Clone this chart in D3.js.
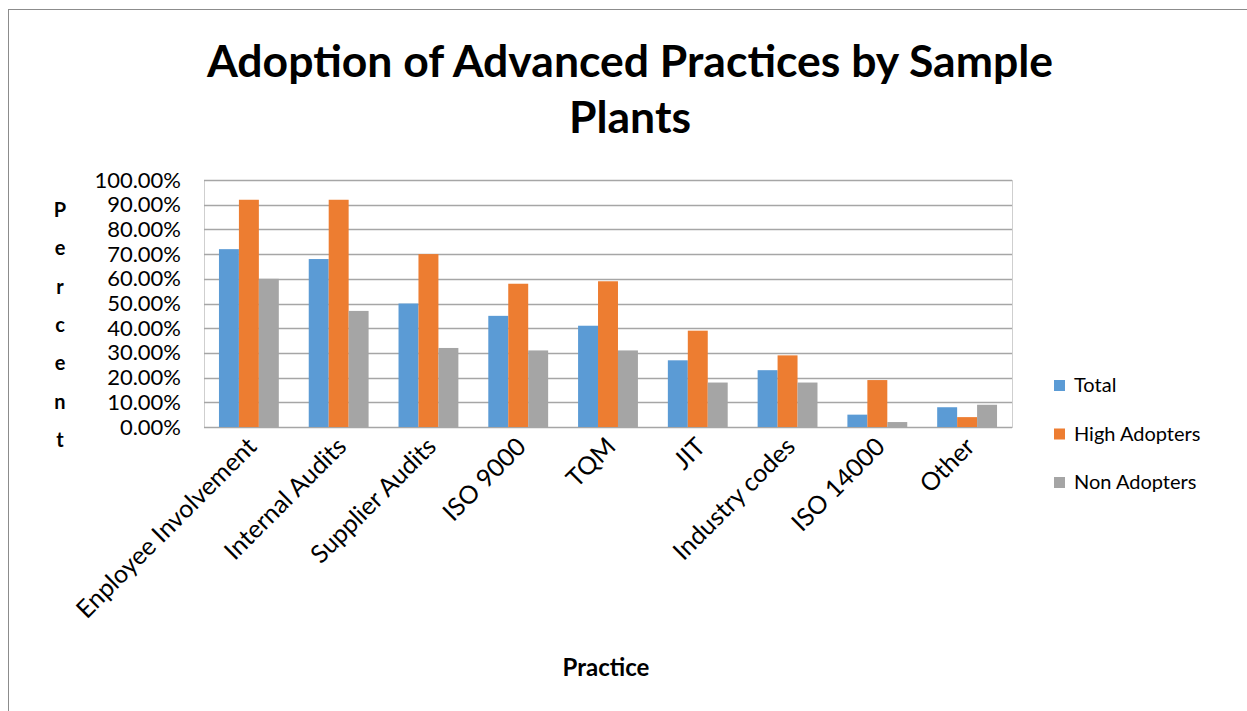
<!DOCTYPE html>
<html lang="en">
<head>
<meta charset="UTF-8" />
<title>Adoption of Advanced Practices by Sample Plants</title>
<script src="https://d3js.org/d3.v7.min.js"></script>
<style>
  body { margin: 0; background: #fff; }
  svg { display: block; }
  text { font-family: Lato, "Open Sans", sans-serif; fill: #000; }
</style>
</head>
<body>
<svg id="chart" width="1247" height="711"></svg>
<script>
// data (fractions)
const practices = ["Enployee Involvement", "Internal Audits", "Supplier Audits", "ISO 9000",
  "TQM", "JIT", "Industry codes", "ISO 14000", "Other"];
const seriesNames = ["Total", "High Adopters", "Non Adopters"];
const total = [0.72, 0.68, 0.50, 0.45, 0.41, 0.27, 0.23, 0.05, 0.08];
const highAdopters = [0.92, 0.92, 0.70, 0.58, 0.59, 0.39, 0.29, 0.19, 0.04];
const nonAdopters = [0.60, 0.47, 0.32, 0.31, 0.31, 0.18, 0.18, 0.02, 0.09];
const yTicks = [0, 0.1, 0.2, 0.3, 0.4, 0.5, 0.6, 0.7, 0.8, 0.9, 1.0];
const colors = ["#5b9bd5", "#ed7d31", "#a5a5a5"];

const values = [total, highAdopters, nonAdopters];

const svg = d3.select("#chart");

// chart border
svg.append("rect")
  .attr("x", 8.5).attr("y", 9.5)
  .attr("width", 1400).attr("height", 900)
  .attr("fill", "none").attr("stroke", "#8c8c8c");

const plot = { left: 204, top: 180, right: 1012, bottom: 427 };

const x = d3.scaleBand()
  .domain(practices)
  .range([plot.left, plot.right]);

const y = d3.scaleLinear()
  .domain([0, 1])
  .range([plot.bottom, plot.top]);

const barW = x.bandwidth() / 4.5;
const xInner = d3.scaleBand()
  .domain(seriesNames)
  .range([0, barW * 3]);

// plot frame
svg.append("rect")
  .attr("x", plot.left + 0.5).attr("y", plot.top + 0.5)
  .attr("width", plot.right - plot.left).attr("height", plot.bottom - plot.top)
  .attr("fill", "none").attr("stroke", "#cfcfcf");

// gridlines
svg.append("g")
  .selectAll("line")
  .data(yTicks)
  .join("line")
  .attr("x1", plot.left).attr("x2", plot.right)
  .attr("y1", d => Math.round(y(d)) + 0.5).attr("y2", d => Math.round(y(d)) + 0.5)
  .attr("stroke", "#a6a6a6").attr("stroke-width", 1.5);

// bars
const groups = svg.append("g")
  .selectAll("g")
  .data(practices)
  .join("g")
  .attr("transform", d => `translate(${x(d) + (x.bandwidth() - barW * 3) / 2},0)`);

groups.selectAll("rect")
  .data((d, i) => seriesNames.map((s, j) => ({ s, v: values[j][i], j })))
  .join("rect")
  .attr("x", d => xInner(d.s))
  .attr("width", xInner.bandwidth())
  .attr("y", d => y(d.v))
  .attr("height", d => y(0) - y(d.v))
  .attr("fill", d => colors[d.j]);

// y axis labels
const yAxis = d3.axisLeft(y)
  .tickValues(yTicks)
  .tickFormat(d3.format(".2%"))
  .tickSize(0)
  .tickPadding(0);

svg.append("g")
  .attr("transform", "translate(181,0)")
  .call(yAxis)
  .call(g => g.select(".domain").remove())
  .selectAll("text")
  .style("font-family", "Lato, sans-serif")
  .style("font-size", "22px")
  .attr("fill", "#000");

// x axis labels (rotated)
svg.append("g")
  .selectAll("text")
  .data(practices)
  .join("text")
  .attr("transform", d => `translate(${x(d) + x.bandwidth() / 2 + 3},${plot.bottom + 15}) rotate(-45)`)
  .attr("text-anchor", "end")
  .attr("dy", "0.35em")
  .style("font-size", "25px")
  .attr("fill", "#1a1a1a")
  .text(d => d);

// title
const title = svg.append("text")
  .attr("x", 630)
  .attr("text-anchor", "middle")
  .style("font-size", "44.5px")
  .style("font-weight", "bold");
title.append("tspan").attr("x", 630).attr("y", 77).text("Adoption of Advanced Practices by Sample");
title.append("tspan").attr("x", 630).attr("y", 133).text("Plants");

// y axis title, stacked letters
const yTitle = svg.append("text")
  .attr("text-anchor", "middle")
  .style("font-size", "20px")
  .style("font-weight", "bold");
yTitle.selectAll("tspan")
  .data("Percent".split(""))
  .join("tspan")
  .attr("x", 60)
  .attr("y", (d, i) => 217 + i * 38.3)
  .text(d => d);

// x axis title
svg.append("text")
  .attr("x", 606).attr("y", 676)
  .attr("text-anchor", "middle")
  .style("font-size", "24px")
  .style("font-weight", "bold")
  .text("Practice");

// legend
const legend = svg.append("g")
  .selectAll("g")
  .data(seriesNames)
  .join("g")
  .attr("transform", (d, i) => `translate(1054,${385 + i * 48.5})`);

legend.append("rect")
  .attr("x", 0).attr("y", -5)
  .attr("width", 11).attr("height", 11)
  .attr("fill", (d, i) => colors[i]);

legend.append("text")
  .attr("x", 20).attr("y", 0)
  .attr("dy", "0.35em")
  .style("font-size", "20px")
  .attr("fill", "#262626")
  .text(d => d);
</script>
</body>
</html>
